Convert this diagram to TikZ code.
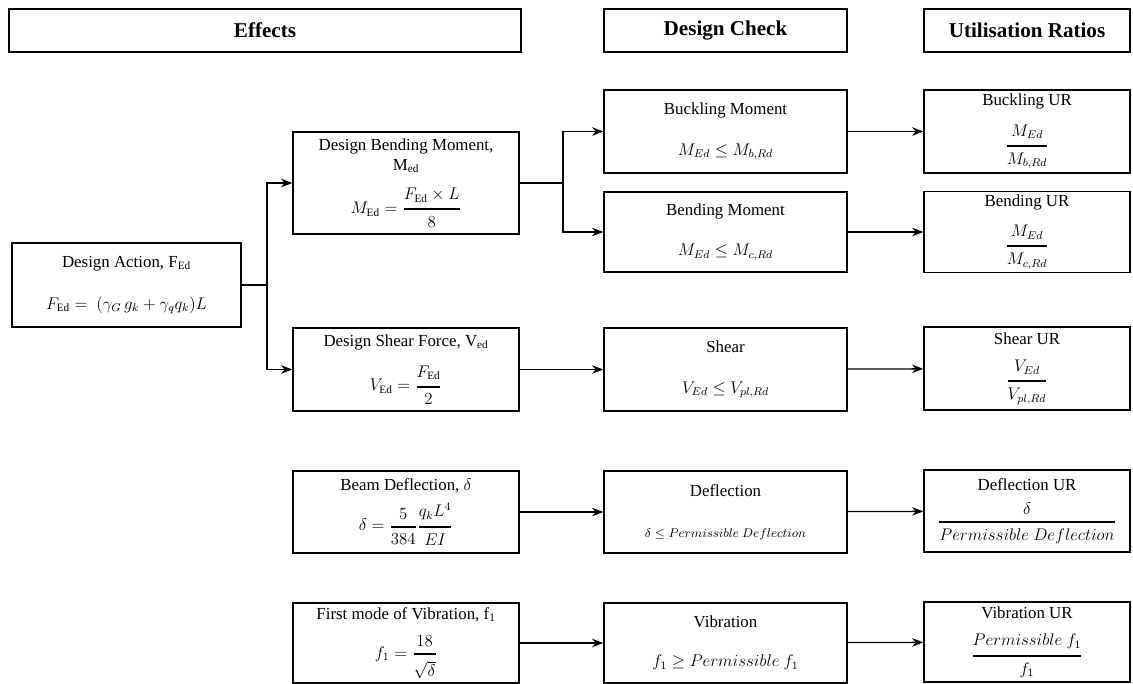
\documentclass[tikz,border=0pt]{standalone}
\usepackage{fontspec}
\setmainfont{Liberation Serif}
\usepackage{amsmath}
\usepackage{tikz}
\usetikzlibrary{arrows.meta}
\newcommand{\urfrac}[2]{\genfrac{}{}{1.4pt}{0}{#1}{#2}}

\begin{document}
\begin{tikzpicture}[->,
	>={Stealth[length=8pt, width=6pt]},
	line width=0.9pt,
	box/.style={draw, rectangle, align=center, inner sep=2pt, font=\fontsize{12}{14}\selectfont},
	head/.style={draw, rectangle, align=center, minimum height=1.075cm, font=\fontsize{15}{18}\selectfont\bfseries}]
	\useasboundingbox (0,0) rectangle (28.325,-17.1);
	\node at (6.625,-0.7625) (effects) [head, minimum width=12.8cm] {Effects};
	\node at (18.1375,-0.7625) (check) [head, minimum width=6.075cm] {Design Check};
	\node at (25.675,-0.7625) (ratios) [head, minimum width=5.15cm] {Utilisation Ratios};

	\node at (3.1625,-7.125) (action) [box, minimum width=5.725cm, minimum height=2.1cm] {Design Action, F\textsubscript{Ed}\\[16pt] $F_{\mathrm{Ed}} =\ (\gamma_G\, g_k + \gamma_q q_k)L$};
	\node at (10.15,-4.575) (dbend) [box, minimum width=5.65cm, minimum height=2.55cm] {Design Bending Moment,\\ M\textsubscript{ed}\\[10pt] $M_{\mathrm{Ed}} = \urfrac{F_{\mathrm{Ed}} \times L}{8}$};
	\node at (10.15,-9.2375) (dshear) [box, minimum width=5.65cm, minimum height=2.075cm] {Design Shear Force, V\textsubscript{ed}\\[10pt] $V_{\mathrm{Ed}} = \urfrac{F_{\mathrm{Ed}}}{2}$};
	\node at (10.15,-12.8) (ddefl) [box, minimum width=5.65cm, minimum height=2.05cm] {Beam Deflection, $\delta$\\[6pt] $\delta = \urfrac{5}{384}\urfrac{q_k L^4}{EI}$};
	\node at (10.15,-16.075) (dvib) [box, minimum width=5.65cm, minimum height=2cm] {First mode of Vibration, f\textsubscript{1}\\[9pt] $f_1 = \urfrac{18}{\sqrt{\delta}}$};

	\node at (18.1375,-3.2875) (buck) [box, minimum width=6.075cm, minimum height=2.075cm] {Buckling Moment\\[15pt] $M_{Ed} \le M_{b,Rd}$};
	\node at (18.1375,-5.8) (bendc) [box, minimum width=6.075cm, minimum height=2cm] {Bending Moment\\[15pt] $M_{Ed} \le M_{c,Rd}$};
	\node at (18.1375,-9.2375) (shearc) [box, minimum width=6.075cm, minimum height=2.075cm] {Shear\\[15pt] $V_{Ed} \le V_{pl,Rd}$};
	\node at (18.1375,-12.8) (deflc) [box, minimum width=6.075cm, minimum height=2.05cm] {Deflection\\[15pt] {\small$\delta \le Permissible\ Deflection$}};
	\node at (18.1375,-16.075) (vibc) [box, minimum width=6.075cm, minimum height=2cm] {Vibration\\[14pt] $f_1 \ge Permissible\ f_1$};

	\node at (25.675,-3.2875) (buckur) [box, minimum width=5.15cm, minimum height=2.075cm] {Buckling UR\\[10pt] $\urfrac{M_{Ed}}{M_{b,Rd}}$};
	\node at (25.675,-5.8) (bendur) [box, minimum width=5.15cm, minimum height=2cm] {Bending UR\\[10pt] $\urfrac{M_{Ed}}{M_{c,Rd}}$};
	\node at (25.675,-9.2125) (shearur) [box, minimum width=5.15cm, minimum height=2.075cm] {Shear UR\\[10pt] $\urfrac{V_{Ed}}{V_{pl,Rd}}$};
	\node at (25.675,-12.775) (deflur) [box, minimum width=5.15cm, minimum height=2.05cm] {Deflection UR\\[8pt] $\urfrac{\delta}{Permissible\ Deflection}$};
	\node at (25.675,-16.05) (vibur) [box, minimum width=5.15cm, minimum height=2cm] {Vibration UR\\[10pt] $\urfrac{Permissible\ f_1}{f_1}$};

	\coordinate (fork) at (6.675,-7.125);
	\coordinate (split) at (14.075,-4.575);
	\draw[-] (action) -- (fork);
	\draw (fork) |- (dbend);
	\draw (fork) |- (dshear);
	\draw[-] (dbend) -- (split);
	\draw (split) |- (buck);
	\draw (split) |- (bendc);
	\draw (dshear) -- (shearc);
	\draw (ddefl) -- (deflc);
	\draw (dvib) -- (vibc);
	\draw (buck) -- (buckur);
	\draw (bendc) -- (bendur);
	\draw (shearc) -- (shearur);
	\draw (deflc) -- (deflur);
	\draw (vibc) -- (vibur);
\end{tikzpicture}
\end{document}
